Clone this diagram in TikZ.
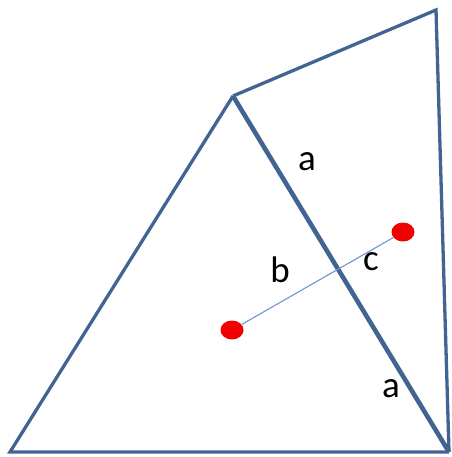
\documentclass[tikz,border=0pt]{standalone}
\usepackage{fontspec}
\usetikzlibrary{shapes.geometric}
\setmainfont{Carlito}
\definecolor{edge}{RGB}{66,100,146}
\definecolor{thinblue}{RGB}{110,150,205}
\definecolor{dot}{RGB}{240,0,0}
\begin{document}
\begin{tikzpicture}[x=1pt,y=-1pt,
  edgeline/.style={draw=edge,line width=3.3pt,line join=miter},
  thickedge/.style={draw=edge,line width=4.6pt},
  linkline/.style={draw=thinblue,line width=1.1pt},
  reddot/.style={ellipse,fill=dot,minimum width=23pt,minimum height=19pt,inner sep=0pt},
  lab/.style={font=\fontsize{37}{40}\selectfont,inner sep=0pt}]
\useasboundingbox (0,0) rectangle (451,457);
\coordinate (A) at (233,96);
\coordinate (BL) at (10,452);
\coordinate (BR) at (449,452);
\coordinate (TR) at (436,10);
\draw[edgeline] (A) -- (TR) -- (BR);
\draw[edgeline] (BR) -- (BL) -- (A);
\draw[thickedge] (A) -- (BR);
\node[reddot] (p) at (232,330) {};
\node[reddot] (q) at (403,232) {};
\draw[linkline] (p) -- (q);
\node[lab] (a1) at (307,162) {a};
\node[lab] (b) at (280,270) {b};
\node[lab] (c) at (371,262) {c};
\node[lab] (a2) at (391,389) {a};
\end{tikzpicture}
\end{document}
